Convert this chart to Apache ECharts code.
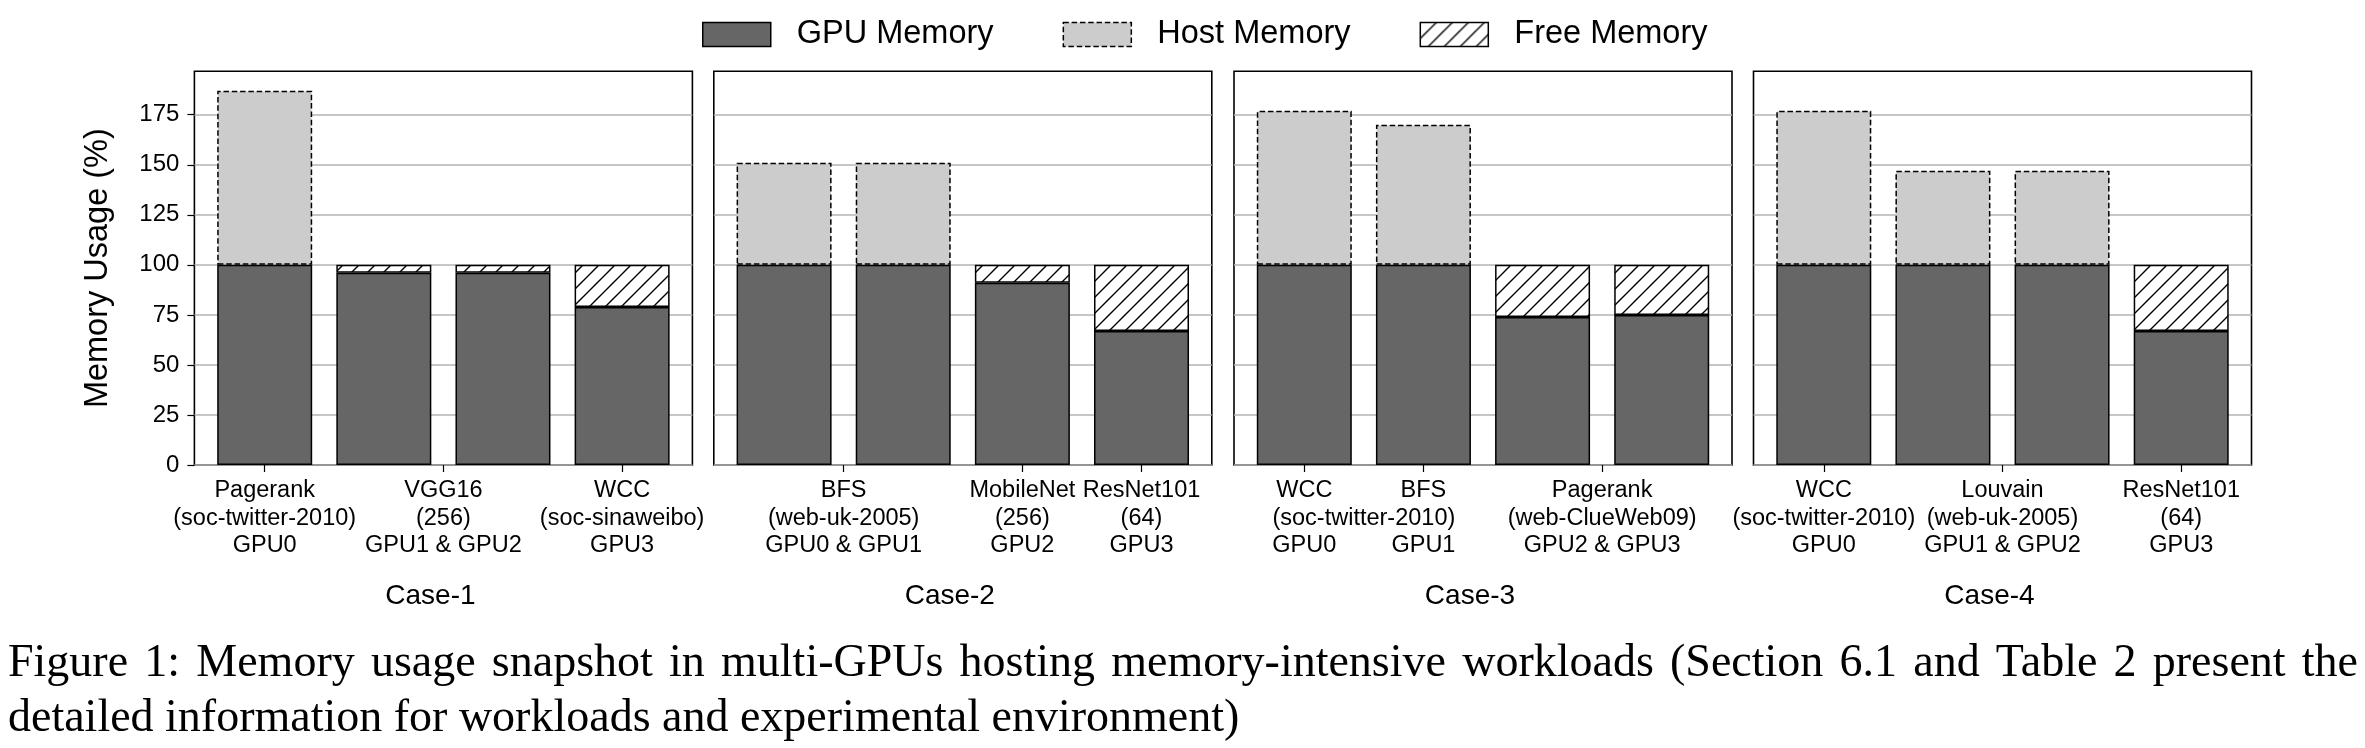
<!DOCTYPE html>
<html><head><meta charset="utf-8">
<script src="https://cdn.jsdelivr.net/npm/echarts@6/dist/echarts.min.js"></script>
<style>html,body{margin:0;padding:0;background:#fff}#c{width:2365px;height:748px}</style>
</head><body><div id="c"></div>
<script>
// ---------------- data ----------------
const caseNames = ['Case-1', 'Case-2', 'Case-3', 'Case-4'];
const seriesNames = ['GPU Memory', 'Host Memory', 'Free Memory'];
const yTicks = [0, 25, 50, 75, 100, 125, 150, 175];
const yMax = 196.7;
const barPositions = [0, 1, 2, 3];
const gpuMemory  = [[100, 96, 96, 79], [100, 100, 91, 67], [100, 100, 74, 75], [100, 100, 100, 67]];
const hostMemory = [[87, 0, 0, 0],    [51, 51, 0, 0],     [77, 70, 0, 0],     [77, 47, 47, 0]];
const freeMemory = [[0, 4, 4, 21],    [0, 0, 9, 33],      [0, 0, 26, 25],     [0, 0, 0, 33]];
const tickPositions = [[0, 1.5, 3], [0.5, 2, 3], [0, 1, 2.5], [0, 1.5, 3]];
const tickLabels = [
  ['Pagerank\n(soc-twitter-2010)\nGPU0', 'VGG16\n(256)\nGPU1 & GPU2', 'WCC\n(soc-sinaweibo)\nGPU3'],
  ['BFS\n(web-uk-2005)\nGPU0 & GPU1', 'MobileNet\n(256)\nGPU2', 'ResNet101\n(64)\nGPU3'],
  ['WCC\n\nGPU0', 'BFS\n\nGPU1', 'Pagerank\n(web-ClueWeb09)\nGPU2 & GPU3'],
  ['WCC\n(soc-twitter-2010)\nGPU0', 'Louvain\n(web-uk-2005)\nGPU1 & GPU2', 'ResNet101\n(64)\nGPU3']
];
// label lines placed between ticks (no tick mark)
const extraLabelPositions = [[], [], [0.5], []];
const extraLabels = [[], [], ['\n(soc-twitter-2010)\n'], []];
const captionLines = [
  'Figure 1: Memory usage snapshot in multi-GPUs hosting memory-intensive workloads (Section 6.1 and Table 2 present the',
  'detailed information for workloads and experimental environment)'
];

// ---------------- styles ----------------
const SANS = '"Liberation Sans", Arial, sans-serif';
const SERIF = '"Liberation Serif", "Times New Roman", serif';
const panelLefts = [194.4, 713.8, 1234, 1753.5];
const panelWidth = 498;
const panelTop = 71.3;
const panelHeight = 393.7;

function makeHatch() {
  const s = 16;
  const c = document.createElement('canvas');
  c.width = s; c.height = s;
  const g = c.getContext('2d');
  g.fillStyle = '#ffffff';
  g.fillRect(0, 0, s, s);
  g.strokeStyle = '#000000';
  g.lineWidth = 1.4;
  g.beginPath();
  g.moveTo(0, s); g.lineTo(s, 0);
  g.moveTo(-s / 2, s / 2); g.lineTo(s / 2, -s / 2);
  g.moveTo(s / 2, s * 1.5); g.lineTo(s * 1.5, s / 2);
  g.stroke();
  return c;
}
const hatchFill = { image: makeHatch(), repeat: 'repeat' };

const gpuStyle = { color: '#666666', borderColor: '#000', borderWidth: 1.5 };
const hostStyle = { color: '#cccccc', borderColor: '#000', borderWidth: 1.5, borderType: [5.5, 2.8] };
const freeStyle = { color: hatchFill, borderColor: '#000', borderWidth: 1.5 };

const grids = [], xAxes = [], yAxes = [], series = [];
const near = (a, b) => Math.abs(a - b) < 1e-6;

for (let i = 0; i < 4; i++) {
  grids.push({
    left: panelLefts[i], top: panelTop, width: panelWidth, height: panelHeight,
    show: true, borderColor: '#000', borderWidth: 1.6, backgroundColor: 'transparent',
    containLabel: false
  });
  const labelVals = tickPositions[i].concat(extraLabelPositions[i]);
  xAxes.push({
    gridIndex: i, type: 'value', min: -0.59, max: 3.59, position: 'bottom',
    axisLine: { show: false, onZero: false },
    splitLine: { show: false },
    axisTick: { show: true, length: 7, customValues: tickPositions[i], lineStyle: { color: '#000', width: 1.2 } },
    axisLabel: {
      show: true, customValues: labelVals, margin: 12,
      fontFamily: SANS, fontSize: 23.5, lineHeight: 27.5, color: '#000', align: 'center',
      formatter: function (v) {
        for (let k = 0; k < tickPositions[i].length; k++) if (near(tickPositions[i][k], v)) return tickLabels[i][k];
        for (let k = 0; k < extraLabelPositions[i].length; k++) if (near(extraLabelPositions[i][k], v)) return extraLabels[i][k];
        return '';
      }
    },
    name: caseNames[i], nameLocation: 'middle', nameGap: 117,
    nameTextStyle: { fontFamily: SANS, fontSize: 28, color: '#000', padding: [0, 26, 0, 0] }
  });
  yAxes.push({
    gridIndex: i, type: 'value', min: 0, max: yMax, interval: 25, position: 'left',
    axisLine: { show: false, onZero: false },
    splitLine: { show: true, lineStyle: { color: '#b3b3b3', width: 1.5 } },
    axisTick: { show: i === 0, length: 7, customValues: yTicks, lineStyle: { color: '#000', width: 1.2 } },
    axisLabel: {
      show: i === 0, customValues: yTicks, margin: 15,
      fontFamily: SANS, fontSize: 24, color: '#000'
    },
    name: i === 0 ? 'Memory Usage (%)' : '',
    nameLocation: 'middle', nameGap: 80, nameRotate: 90,
    nameTextStyle: { fontFamily: SANS, fontSize: 32.5, color: '#000' }
  });
  // data items are [value, position] so that the stack is computed on the value dimension
  const toData = arr => barPositions.map((x, k) => [arr[i][k] > 0 ? arr[i][k] : '-', x]);
  const common = {
    type: 'bar', xAxisIndex: i, yAxisIndex: i, stack: 's' + i, barWidth: 95, silent: true,
    dimensions: ['val', 'pos'], encode: { x: 'pos', y: 'val' }
  };
  series.push(Object.assign({ name: seriesNames[0], data: toData(gpuMemory), itemStyle: gpuStyle, z: 3 }, common));
  series.push(Object.assign({ name: seriesNames[1], data: toData(hostMemory), itemStyle: hostStyle, z: 2 }, common));
  series.push(Object.assign({ name: seriesNames[2], data: toData(freeMemory), itemStyle: freeStyle, z: 2 }, common));
}

// caption: first line justified across the page width, second line left aligned
const graphics = [];
(function () {
  const fs = 46;
  const ctx = document.createElement('canvas').getContext('2d');
  ctx.font = fs + 'px ' + SERIF;
  const x0 = 8, x1 = 2358;
  const words = captionLines[0].split(' ');
  const widths = words.map(w => ctx.measureText(w).width);
  const total = widths.reduce((a, b) => a + b, 0);
  const gap = (x1 - x0 - total) / (words.length - 1);
  let x = x0;
  words.forEach((w, k) => {
    graphics.push({ type: 'text', left: x, top: 641, style: { text: w, fontFamily: SERIF, fontSize: fs, fill: '#000' } });
    x += widths[k] + gap;
  });
  graphics.push({ type: 'text', left: x0, top: 696, style: { text: captionLines[1], fontFamily: SERIF, fontSize: fs, fill: '#000' } });
})();

const option = {
  animation: false,
  backgroundColor: '#fff',
  legend: {
    left: 697, top: 13, itemWidth: 68, itemHeight: 24, itemGap: 69,
    icon: 'rect',
    textStyle: { fontFamily: SANS, fontSize: 32.5, color: '#000', padding: [0, 0, 0, 21] },
    data: [
      { name: seriesNames[0], itemStyle: gpuStyle },
      { name: seriesNames[1], itemStyle: hostStyle },
      { name: seriesNames[2], itemStyle: freeStyle }
    ],
    selectedMode: false
  },
  grid: grids, xAxis: xAxes, yAxis: yAxes, series: series,
  graphic: graphics
};
const chart = echarts.init(document.getElementById('c'), null, { renderer: 'canvas' });
chart.setOption(option);
</script></body></html>
